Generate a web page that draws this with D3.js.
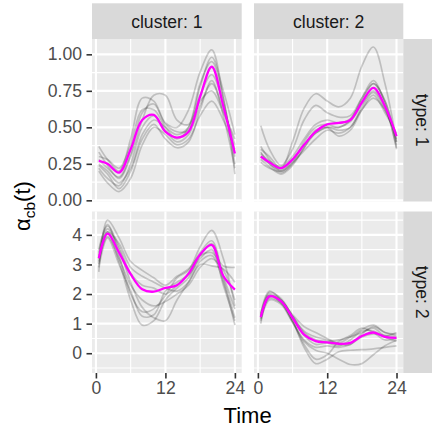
<!DOCTYPE html>
<html>
<head>
<meta charset="utf-8">
<script src="https://cdn.jsdelivr.net/npm/d3@7"></script>
<style>
  body { margin: 0; background: #fff; }
  svg { display: block; font-family: "Liberation Sans", Arial, sans-serif; }
</style>
</head>
<body>
<div id="chart"></div>
<script>
// sample times shared by every curve
var times = [0.5, 2, 4, 6, 8, 10, 12, 14, 16, 18, 20, 22, 24];
var clusters = ["1", "2"];
var types = ["1", "2"];

var xTicks = [0, 12, 24];
var yTicksType1 = [0, 0.25, 0.5, 0.75, 1];
var yTickLabelsType1 = ["0.00", "0.25", "0.50", "0.75", "1.00"];
var yTicksType2 = [0, 1, 2, 3, 4];

// cluster 1, type 1
var meanC1T1 = [0.27, 0.25, 0.19, 0.35, 0.55, 0.585, 0.47, 0.43, 0.47, 0.71, 0.915, 0.645, 0.32];
var curvesC1T1 = [
  [0.37, 0.28, 0.20, 0.42, 0.70, 0.68, 0.53, 0.50, 0.62, 0.88, 1.03, 0.70, 0.25],
  [0.33, 0.24, 0.15, 0.30, 0.55, 0.72, 0.72, 0.55, 0.52, 0.78, 0.98, 0.75, 0.45],
  [0.22, 0.15, 0.10, 0.25, 0.50, 0.58, 0.48, 0.40, 0.45, 0.65, 0.80, 0.62, 0.38],
  [0.25, 0.20, 0.12, 0.22, 0.45, 0.55, 0.50, 0.45, 0.50, 0.68, 0.75, 0.60, 0.42],
  [0.20, 0.12, 0.06, 0.15, 0.38, 0.50, 0.45, 0.38, 0.42, 0.58, 0.68, 0.55, 0.35],
  [0.30, 0.28, 0.22, 0.38, 0.62, 0.62, 0.50, 0.42, 0.50, 0.80, 0.95, 0.70, 0.18],
  [0.28, 0.22, 0.16, 0.32, 0.60, 0.66, 0.52, 0.47, 0.48, 0.72, 0.86, 0.66, 0.30],
  [0.24, 0.18, 0.08, 0.20, 0.42, 0.52, 0.42, 0.36, 0.40, 0.62, 0.82, 0.58, 0.22]
];

// cluster 2, type 1
var meanC2T1 = [0.30, 0.26, 0.22, 0.28, 0.38, 0.47, 0.52, 0.53, 0.55, 0.67, 0.77, 0.645, 0.44];
var curvesC2T1 = [
  [0.35, 0.30, 0.22, 0.40, 0.63, 0.73, 0.68, 0.64, 0.70, 0.92, 1.05, 0.80, 0.40],
  [0.51, 0.35, 0.24, 0.35, 0.55, 0.65, 0.60, 0.57, 0.58, 0.70, 0.80, 0.68, 0.40],
  [0.37, 0.28, 0.20, 0.26, 0.40, 0.50, 0.52, 0.50, 0.55, 0.70, 0.82, 0.66, 0.36],
  [0.33, 0.25, 0.19, 0.25, 0.36, 0.46, 0.50, 0.48, 0.50, 0.64, 0.74, 0.62, 0.42],
  [0.28, 0.23, 0.18, 0.24, 0.36, 0.48, 0.50, 0.44, 0.48, 0.62, 0.72, 0.60, 0.46],
  [0.32, 0.27, 0.23, 0.30, 0.42, 0.52, 0.55, 0.53, 0.56, 0.68, 0.80, 0.68, 0.38],
  [0.26, 0.22, 0.20, 0.26, 0.34, 0.42, 0.48, 0.46, 0.50, 0.62, 0.70, 0.62, 0.44],
  [0.30, 0.25, 0.21, 0.28, 0.38, 0.46, 0.50, 0.50, 0.54, 0.66, 0.75, 0.64, 0.35]
];

// cluster 1, type 2
var meanC1T2 = [3.21, 4.04, 3.40, 2.67, 2.16, 2.08, 2.21, 2.30, 2.69, 3.34, 3.66, 2.61, 2.15];
var curvesC1T2 = [
  [2.75, 4.50, 3.90, 3.10, 2.80, 2.55, 2.30, 2.60, 2.85, 3.30, 3.40, 2.95, 2.90],
  [3.40, 4.35, 3.30, 2.00, 1.40, 1.50, 1.95, 2.55, 2.80, 3.60, 4.15, 3.20, 1.60],
  [3.00, 4.10, 3.10, 1.80, 0.95, 1.10, 1.80, 2.20, 2.55, 3.30, 3.70, 2.50, 1.20],
  [3.30, 4.20, 3.50, 2.40, 1.55, 1.20, 1.10, 1.80, 2.40, 3.10, 3.30, 2.40, 0.95],
  [3.10, 3.95, 3.20, 2.30, 1.80, 1.60, 1.75, 2.00, 2.30, 2.90, 3.20, 2.80, 1.80],
  [3.50, 4.30, 3.60, 2.70, 2.30, 2.20, 2.00, 2.30, 2.70, 3.40, 3.80, 2.60, 1.50],
  [2.90, 3.90, 3.00, 2.10, 1.25, 1.30, 2.10, 2.40, 2.65, 3.20, 3.50, 2.30, 1.10],
  [3.20, 4.10, 3.70, 2.90, 2.60, 2.40, 2.20, 2.10, 2.40, 3.00, 2.95, 2.85, 2.40]
];

// cluster 2, type 2
var meanC2T2 = [1.22, 1.92, 1.76, 1.20, 0.63, 0.41, 0.37, 0.32, 0.35, 0.58, 0.70, 0.55, 0.52];
var curvesC2T2 = [
  [1.00, 1.95, 1.75, 1.10, 0.40, 0.10, 0.00, -0.20, -0.38, -0.35, -0.05, 0.25, 0.45],
  [1.30, 2.05, 1.85, 1.25, 0.75, 0.55, 0.45, 0.30, 0.30, 0.65, 0.90, 0.70, 0.60],
  [1.20, 1.85, 1.70, 1.10, 0.20, -0.35, -0.20, 0.05, 0.10, 0.12, 0.15, 0.20, 0.25],
  [1.35, 2.10, 1.80, 1.30, 0.90, 0.70, 0.50, 0.35, 0.55, 0.80, 0.95, 0.70, 0.65],
  [1.15, 1.95, 1.70, 1.05, 0.30, -0.20, -0.05, 0.40, 0.60, 0.85, 0.70, 0.45, 0.50],
  [1.25, 1.90, 1.78, 1.20, 0.60, 0.30, 0.35, 0.25, 0.45, 0.75, 0.75, 0.55, 0.40],
  [1.10, 1.80, 1.65, 1.05, 0.45, 0.20, 0.25, 0.20, 0.30, 0.55, 0.65, 0.60, 0.55],
  [1.28, 2.00, 1.80, 1.25, 0.70, 0.45, 0.40, 0.45, 0.55, 0.70, 0.85, 0.60, 0.70]
];

var panels = [
  { cluster: 0, type: 0, mean: meanC1T1, curves: curvesC1T1 },
  { cluster: 1, type: 0, mean: meanC2T1, curves: curvesC2T1 },
  { cluster: 0, type: 1, mean: meanC1T2, curves: curvesC1T2 },
  { cluster: 1, type: 1, mean: meanC2T2, curves: curvesC2T2 }
];

var width = 432, height = 431;
var colX = [[92, 241.7], [254, 403.3]];
var rowY = [[39, 201.5], [211.5, 373]];
var tickFont = 17.6;

var svg = d3.select("#chart").append("svg")
  .attr("width", width)
  .attr("height", height);

var x = colX.map(function (r) {
  return d3.scaleLinear().domain([-0.675, 25.175]).range(r);
});
var y = [
  d3.scaleLinear().domain([-0.008, 1.105]).range([rowY[0][1], rowY[0][0]]),
  d3.scaleLinear().domain([-0.668, 4.79]).range([rowY[1][1], rowY[1][0]])
];
var yMajor = [yTicksType1, yTicksType2];
var yMinor = [[0.125, 0.375, 0.625, 0.875], [-0.5, 0.5, 1.5, 2.5, 3.5, 4.5]];
var xMinor = [6, 18];

// panel backgrounds + grid
panels.forEach(function (p) {
  var xs = x[p.cluster], ys = y[p.type];
  var g = svg.append("g");
  g.append("rect")
    .attr("x", colX[p.cluster][0]).attr("y", rowY[p.type][0])
    .attr("width", colX[p.cluster][1] - colX[p.cluster][0])
    .attr("height", rowY[p.type][1] - rowY[p.type][0])
    .attr("fill", "#EBEBEB");

  g.selectAll(".ymin").data(yMinor[p.type]).enter().append("line")
    .attr("x1", colX[p.cluster][0]).attr("x2", colX[p.cluster][1])
    .attr("y1", function (d) { return ys(d); }).attr("y2", function (d) { return ys(d); })
    .attr("stroke", "#fff").attr("stroke-width", 1.1);
  g.selectAll(".xmin").data(xMinor).enter().append("line")
    .attr("y1", rowY[p.type][0]).attr("y2", rowY[p.type][1])
    .attr("x1", function (d) { return xs(d); }).attr("x2", function (d) { return xs(d); })
    .attr("stroke", "#fff").attr("stroke-width", 1.1);
  g.selectAll(".ymaj").data(yMajor[p.type]).enter().append("line")
    .attr("x1", colX[p.cluster][0]).attr("x2", colX[p.cluster][1])
    .attr("y1", function (d) { return ys(d); }).attr("y2", function (d) { return ys(d); })
    .attr("stroke", "#fff").attr("stroke-width", 2.1);
  g.selectAll(".xmaj").data(xTicks).enter().append("line")
    .attr("y1", rowY[p.type][0]).attr("y2", rowY[p.type][1])
    .attr("x1", function (d) { return xs(d); }).attr("x2", function (d) { return xs(d); })
    .attr("stroke", "#fff").attr("stroke-width", 2.1);

  var line = d3.line()
    .x(function (d, i) { return xs(times[i]); })
    .y(function (d) { return ys(d); })
    .curve(d3.curveCatmullRom.alpha(0.5));

  g.selectAll(".curve").data(p.curves).enter().append("path")
    .attr("d", line)
    .attr("fill", "none")
    .attr("stroke", "#000")
    .attr("stroke-opacity", 0.19)
    .attr("stroke-width", 1.7);

  g.append("path")
    .attr("d", line(p.mean))
    .attr("fill", "none")
    .attr("stroke", "#FF00FF")
    .attr("stroke-width", 2.3);
});

// top strips
clusters.forEach(function (c, i) {
  svg.append("rect")
    .attr("x", colX[i][0]).attr("y", 3.3)
    .attr("width", colX[i][1] - colX[i][0]).attr("height", 35.7)
    .attr("fill", "#D9D9D9");
  svg.append("text")
    .attr("x", (colX[i][0] + colX[i][1]) / 2).attr("y", 28.3)
    .attr("text-anchor", "middle")
    .attr("font-size", tickFont)
    .attr("fill", "#1A1A1A")
    .text("cluster: " + c);
});

// right strips
types.forEach(function (t, i) {
  svg.append("rect")
    .attr("x", colX[1][1]).attr("y", rowY[i][0])
    .attr("width", 36).attr("height", rowY[i][1] - rowY[i][0])
    .attr("fill", "#D9D9D9");
  svg.append("text")
    .attr("transform", "translate(415.5," + (rowY[i][0] + rowY[i][1]) / 2 + ") rotate(90)")
    .attr("text-anchor", "middle")
    .attr("font-size", tickFont)
    .attr("fill", "#1A1A1A")
    .text("type: " + t);
});

// y axes (left column only)
[0, 1].forEach(function (r) {
  var labels = r === 0 ? yTickLabelsType1 : yTicksType2.map(String);
  var ax = d3.axisLeft(y[r]).tickValues(yMajor[r])
    .tickSize(5.5).tickPadding(4.5)
    .tickFormat(function (d, i) { return labels[i]; });
  var g = svg.append("g")
    .attr("transform", "translate(" + colX[0][0] + ",0)")
    .call(ax);
  g.select(".domain").remove();
  g.selectAll("line").attr("stroke", "#333333").attr("stroke-width", 1.6);
  g.selectAll("text").attr("fill", "#4D4D4D")
    .attr("font-size", tickFont).attr("font-family", "Liberation Sans, Arial, sans-serif");
});

// x axes (bottom row only)
[0, 1].forEach(function (c) {
  var ax = d3.axisBottom(x[c]).tickValues(xTicks).tickSize(5.5).tickPadding(3);
  var g = svg.append("g")
    .attr("transform", "translate(0," + rowY[1][1] + ")")
    .call(ax);
  g.select(".domain").remove();
  g.selectAll("line").attr("stroke", "#333333").attr("stroke-width", 1.6);
  g.selectAll("text").attr("fill", "#4D4D4D")
    .attr("font-size", tickFont).attr("font-family", "Liberation Sans, Arial, sans-serif");
});

// axis titles
svg.append("text")
  .attr("x", (colX[0][0] + colX[1][1]) / 2).attr("y", 423)
  .attr("text-anchor", "middle")
  .attr("font-size", 22)
  .attr("fill", "#000")
  .text("Time");

var yt = svg.append("text")
  .attr("transform", "translate(30," + (rowY[0][0] + rowY[1][1]) / 2 + ") rotate(-90)")
  .attr("text-anchor", "middle")
  .attr("font-size", 22)
  .attr("fill", "#000");
yt.append("tspan").text("α");
yt.append("tspan").attr("dy", 5).attr("font-size", 15.4).text("cb");
yt.append("tspan").attr("dy", -5).text("(t)");
</script>
</body>
</html>
